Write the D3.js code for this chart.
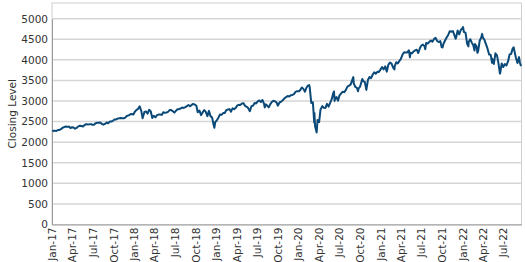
<!DOCTYPE html>
<html>
<head>
<meta charset="utf-8">
<script src="https://cdn.jsdelivr.net/npm/d3@7"></script>
<style>
  html, body { margin: 0; padding: 0; background: #fff; }
  svg { display: block; }
  text { font-family: "DejaVu Sans", Verdana, sans-serif; fill: #333; }
</style>
</head>
<body>
<div id="chart"></div>
<script>
// ---- data (approximate S&P 500 closes, read from picture / weekly) ----
const dates = [
"2017-01-03","2017-01-06","2017-01-13","2017-01-20","2017-01-27","2017-02-03","2017-02-10","2017-02-17","2017-02-24","2017-03-03","2017-03-10","2017-03-17","2017-03-24","2017-03-31","2017-04-07","2017-04-13","2017-04-21","2017-04-28","2017-05-05","2017-05-12","2017-05-19","2017-05-26","2017-06-02","2017-06-09","2017-06-16","2017-06-23","2017-06-30","2017-07-07","2017-07-14","2017-07-21","2017-07-28","2017-08-04","2017-08-11","2017-08-18","2017-08-25","2017-09-01","2017-09-08","2017-09-15","2017-09-22","2017-09-29","2017-10-06","2017-10-13","2017-10-20","2017-10-27","2017-11-03","2017-11-10","2017-11-17","2017-11-24","2017-12-01","2017-12-08","2017-12-15","2017-12-22","2017-12-29",
"2018-01-05","2018-01-12","2018-01-19","2018-01-26","2018-02-02","2018-02-08","2018-02-16","2018-02-23","2018-03-02","2018-03-09","2018-03-16","2018-03-23","2018-03-29","2018-04-06","2018-04-13","2018-04-20","2018-04-27","2018-05-04","2018-05-11","2018-05-18","2018-05-25","2018-06-01","2018-06-08","2018-06-15","2018-06-22","2018-06-29","2018-07-06","2018-07-13","2018-07-20","2018-07-27","2018-08-03","2018-08-10","2018-08-17","2018-08-24","2018-08-31","2018-09-07","2018-09-14","2018-09-21","2018-09-28","2018-10-05","2018-10-11","2018-10-19","2018-10-26","2018-11-02","2018-11-09","2018-11-16","2018-11-23","2018-11-30","2018-12-07","2018-12-14","2018-12-21","2018-12-24","2018-12-28",
"2019-01-04","2019-01-11","2019-01-18","2019-01-25","2019-02-01","2019-02-08","2019-02-15","2019-02-22","2019-03-01","2019-03-08","2019-03-15","2019-03-22","2019-03-29","2019-04-05","2019-04-12","2019-04-18","2019-04-26","2019-05-03","2019-05-10","2019-05-17","2019-05-24","2019-05-31","2019-06-07","2019-06-14","2019-06-21","2019-06-28","2019-07-05","2019-07-12","2019-07-19","2019-07-26","2019-08-02","2019-08-05","2019-08-09","2019-08-16","2019-08-23","2019-08-30","2019-09-06","2019-09-13","2019-09-20","2019-09-27","2019-10-02","2019-10-11","2019-10-18","2019-10-25","2019-11-01","2019-11-08","2019-11-15","2019-11-22","2019-11-29","2019-12-06","2019-12-13","2019-12-20","2019-12-27",
"2020-01-03","2020-01-10","2020-01-17","2020-01-24","2020-01-31","2020-02-07","2020-02-14","2020-02-19","2020-02-21","2020-02-28","2020-03-06","2020-03-09","2020-03-12","2020-03-13","2020-03-16","2020-03-20","2020-03-23","2020-03-27","2020-04-03","2020-04-09","2020-04-17","2020-04-24","2020-05-01","2020-05-08","2020-05-15","2020-05-22","2020-05-29","2020-06-05","2020-06-08","2020-06-11","2020-06-12","2020-06-19","2020-06-26","2020-07-02","2020-07-10","2020-07-17","2020-07-24","2020-07-31","2020-08-07","2020-08-14","2020-08-21","2020-08-28","2020-09-02","2020-09-04","2020-09-11","2020-09-18","2020-09-23","2020-09-25","2020-10-02","2020-10-09","2020-10-12","2020-10-16","2020-10-23","2020-10-30","2020-11-06","2020-11-13","2020-11-20","2020-11-27","2020-12-04","2020-12-11","2020-12-18","2020-12-24","2020-12-31",
"2021-01-08","2021-01-15","2021-01-22","2021-01-29","2021-02-05","2021-02-12","2021-02-19","2021-02-26","2021-03-04","2021-03-05","2021-03-12","2021-03-19","2021-03-26","2021-04-01","2021-04-09","2021-04-16","2021-04-23","2021-04-30","2021-05-07","2021-05-12","2021-05-14","2021-05-21","2021-05-28","2021-06-04","2021-06-11","2021-06-18","2021-06-25","2021-07-02","2021-07-09","2021-07-16","2021-07-19","2021-07-23","2021-07-30","2021-08-06","2021-08-13","2021-08-20","2021-08-27","2021-09-03","2021-09-10","2021-09-17","2021-09-24","2021-09-30","2021-10-04","2021-10-08","2021-10-15","2021-10-22","2021-10-29","2021-11-05","2021-11-12","2021-11-19","2021-11-26","2021-12-01","2021-12-03","2021-12-10","2021-12-17","2021-12-24","2021-12-31",
"2022-01-03","2022-01-07","2022-01-14","2022-01-21","2022-01-27","2022-01-28","2022-02-04","2022-02-11","2022-02-18","2022-02-23","2022-02-25","2022-03-04","2022-03-08","2022-03-11","2022-03-18","2022-03-25","2022-03-29","2022-04-01","2022-04-08","2022-04-14","2022-04-22","2022-04-29","2022-05-06","2022-05-12","2022-05-13","2022-05-20","2022-05-27","2022-06-03","2022-06-10","2022-06-16","2022-06-17","2022-06-24","2022-07-01","2022-07-08","2022-07-15","2022-07-22","2022-07-29","2022-08-05","2022-08-12","2022-08-16","2022-08-19","2022-08-26","2022-09-02","2022-09-09","2022-09-13","2022-09-16","2022-09-20"
];
const closes = [
2258,2277,2275,2271,2295,2297,2316,2351,2367,2383,2373,2378,2344,2363,2355,2329,2349,2384,2399,2391,2382,2416,2439,2432,2433,2438,2423,2425,2459,2472,2472,2477,2441,2425,2443,2477,2461,2500,2502,2519,2549,2553,2575,2581,2588,2582,2579,2602,2642,2652,2676,2683,2674,
2743,2786,2810,2873,2762,2581,2732,2747,2691,2786,2752,2588,2641,2604,2656,2670,2670,2663,2728,2713,2721,2735,2779,2780,2755,2718,2760,2801,2802,2819,2840,2833,2850,2875,2902,2872,2905,2930,2914,2885,2728,2768,2658,2723,2781,2736,2633,2760,2633,2600,2417,2351,2486,
2532,2596,2671,2665,2707,2708,2776,2793,2804,2743,2822,2800,2834,2893,2907,2905,2940,2946,2881,2860,2826,2752,2873,2887,2950,2942,2990,3014,2977,3026,2932,2844,2919,2889,2847,2926,2979,3007,2992,2962,2888,2970,2986,3023,3067,3093,3120,3110,3141,3146,3169,3221,3240,
3235,3265,3330,3295,3226,3328,3380,3386,3338,2954,2972,2747,2481,2711,2386,2305,2237,2541,2489,2790,2875,2837,2831,2930,2864,2955,3044,3194,3232,3002,3041,3098,3009,3130,3185,3225,3216,3271,3351,3373,3397,3508,3580,3427,3341,3319,3237,3298,3348,3477,3535,3484,3465,3270,3510,3585,3557,3638,3699,3663,3709,3703,3756,
3825,3768,3841,3714,3887,3934,3907,3811,3768,3842,3943,3913,3975,4020,4129,4185,4180,4181,4233,4063,4174,4156,4204,4230,4247,4166,4281,4352,4370,4327,4259,4412,4395,4437,4468,4442,4509,4535,4459,4433,4455,4308,4300,4391,4471,4545,4605,4697,4683,4698,4595,4513,4538,4712,4620,4726,4766,
4797,4677,4663,4398,4327,4432,4501,4419,4349,4225,4385,4329,4170,4204,4463,4543,4632,4546,4488,4393,4272,4132,4123,3930,4024,3901,4158,4109,3901,3667,3675,3912,3825,3899,3863,3962,4130,4145,4280,4305,4228,4058,3924,4067,3932,3873,3856
];
const yTicks = [0,500,1000,1500,2000,2500,3000,3500,4000,4500,5000];
const yTitle = "Closing Level";

// ---- layout ----
const W = 525, H = 262;
const mLeft = 52, mRight = 521.5, mTop = 3, mBottom = 224.5;

const parse = d3.timeParse("%Y-%m-%d");
const data = dates.map((d, i) => ({ date: parse(d), value: closes[i] }));

const x = d3.scaleTime()
  .domain([parse("2017-01-01"), data[data.length - 1].date])
  .range([mLeft, mRight]);
const y = d3.scaleLinear().domain([0, 5000]).range([mBottom, 18.7]);

const svg = d3.select("#chart").append("svg").attr("width", W).attr("height", H);

// plot border
svg.append("rect")
  .attr("x", mLeft).attr("y", mTop)
  .attr("width", mRight - mLeft).attr("height", mBottom - mTop)
  .attr("fill", "none").attr("stroke", "#cfcfcf").attr("stroke-width", 1);

// gridlines
svg.append("g").selectAll("line").data(yTicks.filter(t => t > 0)).join("line")
  .attr("x1", mLeft).attr("x2", mRight)
  .attr("y1", d => y(d)).attr("y2", d => y(d))
  .attr("stroke", "#d6d6d6").attr("stroke-width", 1.5);

// y axis
const yAxis = svg.append("g").attr("transform", `translate(${mLeft},0)`)
  .call(d3.axisLeft(y).tickValues(yTicks).tickFormat(d3.format("d")).tickSize(0).tickPadding(4));
yAxis.select(".domain").attr("stroke", "#9a9a9a").attr("stroke-width", 1);
yAxis.selectAll("text").style("font-size", "10.5px").attr("fill", "#333")
  .style("font-family", "'DejaVu Sans', Verdana, sans-serif");

// x axis
const xTicks = d3.timeMonth.range(parse("2017-01-01"), parse("2022-08-01"), 3);
const xAxis = svg.append("g").attr("transform", `translate(0,${mBottom})`)
  .call(d3.axisBottom(x).tickValues(xTicks).tickFormat(d3.timeFormat("%b-%y")).tickSize(0).tickPadding(3));
xAxis.select(".domain").attr("stroke", "#9a9a9a").attr("stroke-width", 1);
xAxis.selectAll("text")
  .style("font-size", "10.5px")
  .style("font-family", "'DejaVu Sans', Verdana, sans-serif")
  .attr("fill", "#333")
  .attr("text-anchor", "end")
  .attr("transform", "rotate(-90)")
  .attr("x", -3).attr("y", 0).attr("dy", "0.35em");

// y title
svg.append("text")
  .attr("transform", `translate(16,${(mTop + mBottom) / 2}) rotate(-90)`)
  .attr("text-anchor", "middle")
  .style("font-size", "10.5px")
  .text(yTitle);

// line
const line = d3.line().x(d => x(d.date)).y(d => y(d.value));
svg.append("path").datum(data)
  .attr("fill", "none")
  .attr("stroke", "#0b4a78")
  .attr("stroke-width", 2)
  .attr("stroke-linejoin", "round")
  .attr("d", line);
</script>
</body>
</html>
